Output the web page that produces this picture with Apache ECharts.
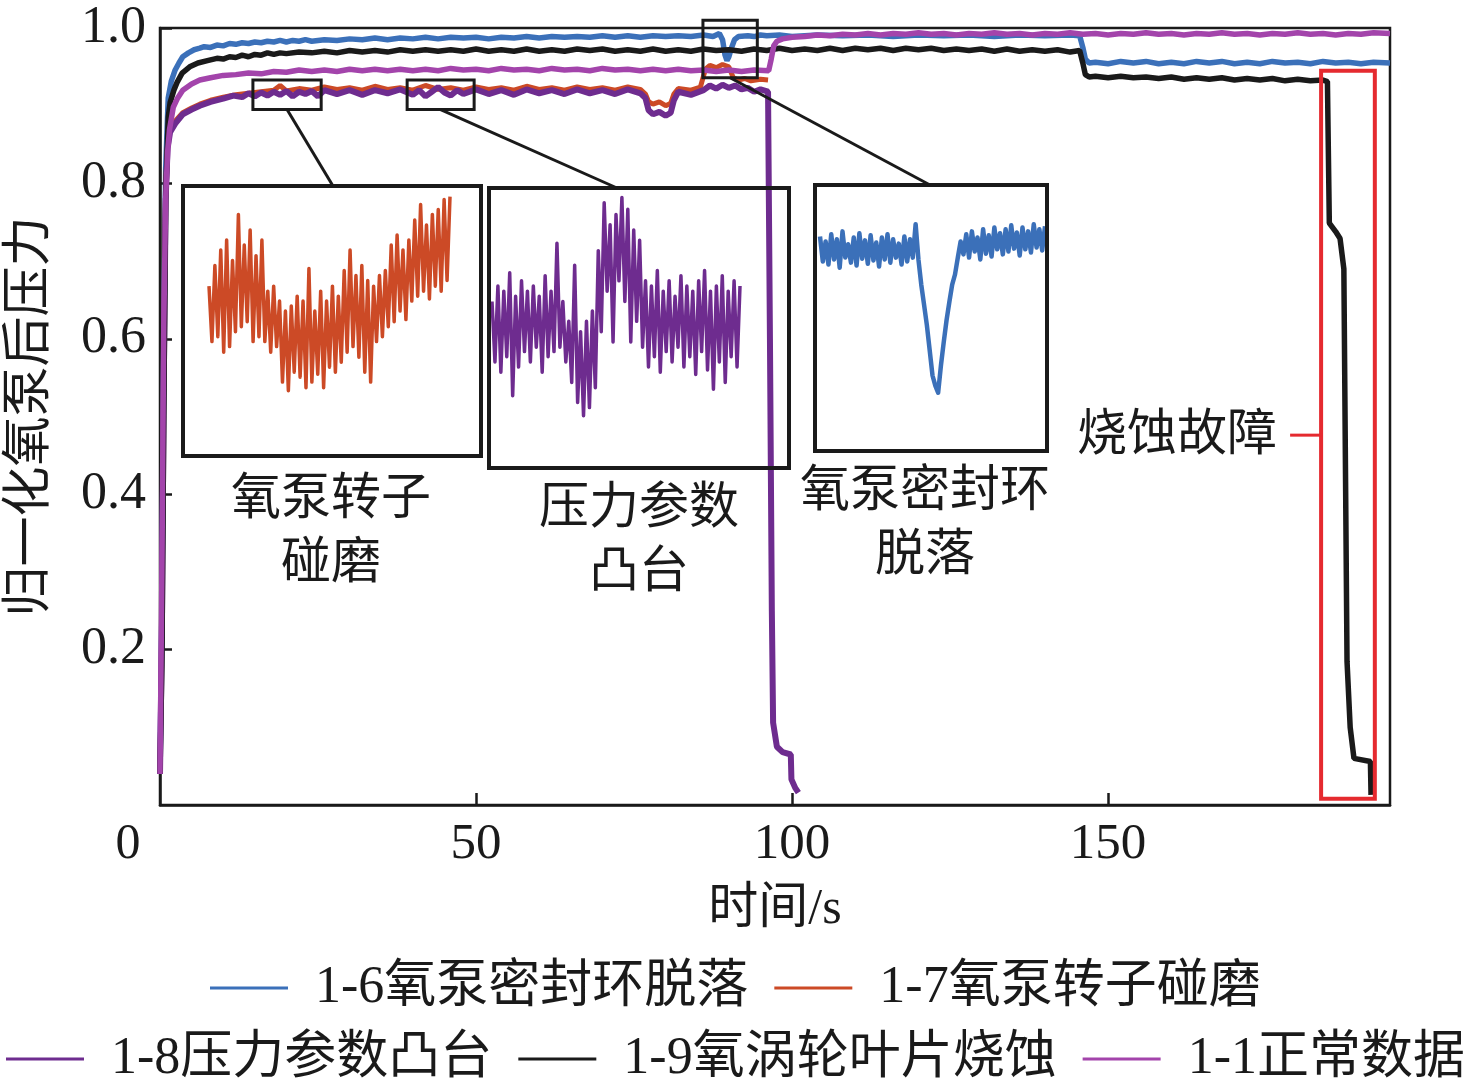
<!DOCTYPE html>
<html>
<head>
<meta charset="utf-8"/>
<title>氧泵后压力</title>
<script src="https://cdn.jsdelivr.net/npm/echarts@6/dist/echarts.min.js"></script>
<style>
  html,body{margin:0;padding:0;background:#fff;}
  #main{width:1476px;height:1091px;}
</style>
</head>
<body>
<div id="main"></div>
<script type="text/javascript">
// ---- series names (legend order) ----
var names = ['1-6氧泵密封环脱落', '1-7氧泵转子碰磨', '1-8压力参数凸台', '1-9氧涡轮叶片烧蚀', '1-1正常数据'];
var colors = ['#3b70b9', '#cc4a26', '#6e2c8f', '#1a1a1a', '#a344ab'];

// ---- main curves: [time s, normalized pressure] ----
var seal = [[0,.04],[0.3,.25],[0.6,.6],[0.9,.82],[1.3,.91],[1.8,.932],[2.4,.946],[3,.955],[3.6,.963],[4.5,.968],[5.4,.972],[6.3,.974],[7,.976],[8,.975],[9,.978],[10,.977],[11,.98],[12,.979],[13,.981],[14,.98],[15,.982],[16,.981],[17,.983],[18,.982],[19,.984],[20,.982],[21,.984],[22,.983],[23,.985],[24,.983],[26,.985],[28,.984],[30,.986],[32,.985],[34,.987],[36,.985],[38,.987],[40,.986],[42,.988],[44,.986],[46,.988],[48,.987],[50,.988],[52,.986],[54,.988],[56,.987],[58,.989],[60,.987],[62,.989],[64,.988],[66,.989],[68,.988],[70,.99],[72,.988],[74,.99],[76,.988],[78,.99],[80,.989],[82,.99],[84,.989],[86,.991],[87.5,.989],[88.5,.993],[89,.985],[89.4,.965],[89.7,.958],[90,.963],[90.4,.974],[90.9,.985],[91.5,.989],[93,.99],[94,.989],[95,.991],[96,.99],[98,.991],[100,.989],[104,.991],[108,.99],[112,.991],[116,.989],[120,.991],[124,.99],[128,.991],[132,.989],[136,.991],[140,.99],[144,.991],[145.5,.99],[146,.975],[146.4,.96],[147,.955],[148,.956],[150,.954],[152,.957],[154,.955],[156,.957],[158,.954],[160,.956],[162,.954],[164,.957],[166,.955],[168,.957],[170,.954],[172,.956],[174,.954],[176,.957],[178,.955],[180,.956],[182,.954],[184,.957],[186,.955],[188,.956],[190,.954],[192,.956],[194.6,.955]];
var rotor = [[0,.04],[0.3,.25],[0.6,.6],[0.9,.8],[1.2,.85],[1.6,.869],[2.5,.881],[3.6,.891],[5,.897],[6.3,.902],[8,.907],[10,.911],[12,.914],[14,.916],[16,.918],[18,.92],[19,.926],[20,.919],[22,.922],[24,.92],[26,.924],[28,.921],[30,.923],[32,.92],[34,.925],[36,.921],[38,.923],[40,.92],[42,.926],[44,.921],[46,.923],[48,.92],[50,.924],[52,.921],[54,.923],[56,.92],[58,.925],[60,.921],[62,.923],[64,.92],[66,.924],[68,.921],[70,.923],[72,.92],[74,.924],[76,.921],[76.8,.915],[77.3,.905],[78,.902],[79,.905],[80,.9],[80.8,.903],[81.3,.915],[82,.922],[84,.92],[85.5,.924],[86.3,.947],[87,.952],[88,.949],[89,.953],[90,.95],[90.7,.936],[91.5,.933],[92.5,.935],[93.5,.932],[95,.934],[96.2,.933]];
var boss = [[0,.04],[0.3,.22],[0.6,.55],[0.9,.78],[1.2,.845],[1.6,.866],[2.5,.878],[3.6,.889],[5,.895],[6.3,.9],[8,.905],[10,.909],[11.6,.913],[13,.911],[14,.916],[15,.912],[16,.917],[17,.913],[18,.918],[19,.914],[20,.919],[21,.912],[22,.918],[23,.915],[24,.919],[25,.912],[26,.92],[28,.915],[30,.92],[32,.914],[34,.92],[36,.916],[38,.921],[40,.914],[41,.92],[42,.912],[43,.918],[44,.924],[45,.917],[46,.913],[47,.92],[48,.915],[50,.921],[52,.915],[54,.92],[56,.914],[58,.921],[60,.916],[62,.92],[64,.915],[66,.921],[68,.916],[70,.92],[72,.915],[74,.921],[76,.916],[76.8,.91],[77.3,.894],[78,.889],[79,.892],[80,.887],[80.8,.891],[81.3,.907],[82,.918],[84,.914],[86,.92],[87,.926],[88,.922],[89,.927],[90,.923],[91,.926],[92,.921],[93,.923],[94,.918],[95,.921],[96.2,.918],[96.5,.6],[96.8,.25],[97,.106],[97.6,.075],[98.5,.068],[99.8,.065],[99.9,.033],[100.5,.022],[101,.016]];
var blade = [[0,.04],[0.3,.18],[0.6,.5],[0.9,.78],[1.3,.885],[1.6,.904],[2.2,.92],[2.7,.93],[3.5,.942],[4.7,.95],[6,.955],[7.5,.958],[9,.961],[10,.96],[11,.963],[12,.962],[13,.965],[14,.963],[15,.966],[16,.965],[17,.968],[18,.966],[19,.968],[20,.967],[22,.969],[24,.968],[26,.97],[28,.968],[30,.971],[32,.969],[34,.971],[36,.969],[38,.972],[40,.97],[42,.972],[44,.97],[46,.972],[48,.97],[50,.973],[52,.97],[54,.972],[56,.97],[58,.973],[60,.97],[62,.972],[64,.97],[66,.973],[68,.971],[70,.973],[72,.97],[74,.972],[76,.97],[78,.973],[80,.97],[82,.972],[84,.97],[86,.973],[88,.971],[90,.972],[92,.97],[94,.973],[96,.971],[98,.974],[100,.971],[102,.973],[104,.971],[106,.974],[108,.971],[110,.974],[112,.972],[114,.974],[116,.971],[118,.974],[120,.972],[122,.974],[124,.971],[126,.973],[128,.971],[130,.973],[132,.97],[134,.973],[136,.97],[138,.972],[140,.97],[142,.972],[144,.969],[145.5,.971],[146,.955],[146.4,.94],[147,.937],[148,.938],[150,.936],[152,.938],[154,.936],[156,.937],[158,.935],[160,.937],[162,.934],[164,.936],[166,.934],[168,.936],[170,.933],[172,.935],[174,.933],[176,.935],[178,.932],[180,.934],[182,.932],[184,.933],[184.7,.931],[185,.749],[186,.738],[186.7,.729],[187.3,.69],[187.8,.185],[188.3,.1],[188.9,.06],[191.5,.056],[191.6,.013]];
var normal = [[0,.04],[0.3,.3],[0.6,.62],[0.9,.78],[1.2,.84],[1.5,.869],[2.1,.898],[2.8,.91],[3.6,.92],[5,.928],[6.3,.933],[8,.936],[10,.939],[12,.94],[14,.942],[16,.941],[18,.944],[20,.943],[22,.946],[24,.944],[26,.946],[28,.944],[30,.947],[32,.945],[34,.947],[36,.945],[38,.947],[40,.945],[42,.947],[44,.945],[46,.948],[48,.946],[50,.947],[52,.945],[54,.948],[56,.946],[58,.947],[60,.945],[62,.948],[64,.946],[66,.947],[68,.945],[70,.948],[72,.946],[74,.947],[76,.945],[78,.947],[80,.945],[82,.947],[84,.945],[86,.946],[88,.944],[90,.946],[92,.944],[94,.946],[96.3,.945],[96.7,.96],[97.1,.977],[97.6,.983],[98.5,.986],[100,.988],[102,.989],[104,.991],[106,.99],[108,.992],[110,.991],[112,.993],[114,.991],[116,.993],[118,.992],[120,.994],[122,.992],[124,.993],[126,.991],[128,.993],[130,.992],[132,.994],[134,.992],[136,.993],[138,.991],[140,.993],[142,.992],[144,.994],[146,.992],[148,.993],[150,.991],[152,.993],[154,.992],[156,.994],[158,.992],[160,.993],[162,.991],[164,.993],[166,.992],[168,.994],[170,.992],[172,.993],[174,.991],[176,.993],[178,.992],[180,.994],[182,.992],[184,.993],[186,.991],[188,.993],[190,.992],[192,.994],[194.6,.993]];

// ---- enlarged views (evenly sampled pressure) ----
var zoomRotor = [.9189,.9111,.9218,.9118,.9240,.9096,.9254,.9104,.9225,
  .9125,.9290,.9132,.9247,.9139,.9268,.9111,.9232,.9118,.9254,
  .9111,.9182,.9096,.9189,.9104,
  .9168,.9054,.9154,.9042,.9161,.9068,.9175,
  .9061,.9168,.9046,.9214,.9054,.9154,.9065,.9182,.9046,.9168,
  .9075,.9189,.9068,.9175,.9082,
  .9211,.9096,.9240,.9104,.9204,.9089,.9218,
  .9068,.9197,.9054,.9189,.9111,
  .9204,.9118,.9211,.9132,
  .9247,.9139,.9261,.9154,.9240,.9142,.9254,
  .9168,.9282,.9175,.9304,.9182,.9275,.9171,
  .9290,.9189,.9297,.9182,.9311,.9197,.9315];
var zoomBoss = [.9176,.9094,.9197,.9080,.9190,.9101,.9215,.9048,.9183,.9087,.9204,.9108,.9190,
  .9094,.9197,.9114,.9183,.9080,.9211,.9101,.9190,.9108,.9255,.9114,.9176,.9094,
  .9149,.9066,.9225,.9039,.9135,.9021,.9149,.9032,.9163,.9059,
  .9245,.9135,.9310,.9190,.9280,.9121,.9294,.9204,.9317,.9176,.9301,.9121,.9273,.9149,.9259,.9114,.9204,
  .9087,.9197,.9101,.9218,.9080,.9190,.9108,.9204,.9094,.9183,.9114,.9211,.9087,.9197,.9101,.9190,
  .9077,.9204,.9108,.9218,.9083,.9190,.9057,.9197,.9094,.9211,.9066,.9190,.9101,.9204,.9087,.9197];
var zoomSeal = [.9957,.9887,.9943,.9879,.9963,.9893,.9949,.9870,.9971,.9898,.9935,.9884,.9954,.9876,.9966,.9895,
  .9946,.9881,.9960,.9890,.9940,.9873,.9954,.9893,.9963,.9884,.9949,.9898,.9937,.9879,.9957,.9887,.9949,.9898,
  .9991,
  .9893,.9823,.9767,.9710,.9640,.9570,.9542,.9522,.9598,.9663,.9724,.9775,.9823,.9851,.9898,
  .9943,.9907,.9963,.9898,.9971,.9915,.9954,.9893,.9977,.9909,.9960,.9901,.9982,.9921,.9966,.9907,
  .9977,.9915,.9988,.9923,.9968,.9904,.9982,.9921,.9971,.9912,.9991,.9926,.9977,.9918,.9985];

// ---- boxes in data units: [t0, t1, pTop, pBottom] ----
var zoomBoxes = [[14.7, 25.5, .933, .895], [39.1, 49.7, .933, .895], [85.9, 94.5, 1.010, .936]];
var faultBox = [183.7, 192.2, .945, .008];
var faultLabelP = .476;

// ---- tick / label text ----
var xTicks = [50, 100, 150];
var yTicks = [0.2, 0.4, 0.6, 0.8, 1.0];

var FONT = "'Liberation Serif','Noto Sans CJK SC',serif";
var INK = '#1a1a1a';

// inset layouts (pixels): frame rect, data area, connector end point
var insets = [
  {frame: [183, 186, 298, 270], area: [209, 186, 241, 270], anchor: [333, 186]},
  {frame: [489, 188, 300, 280], area: [492, 188, 248, 280], anchor: [617, 188]},
  {frame: [815, 185, 232, 266], area: [820, 185, 225, 266], anchor: [930, 185]}
];

var myChart = echarts.init(document.getElementById('main'));

var grids = [{left: 160, top: 28, right: 86, bottom: 286, show: true, borderColor: INK, borderWidth: 2.5,
  backgroundColor: 'transparent', containLabel: false, outerBoundsMode: 'none'}];
var xAxes = [{
  type: 'value', min: 0, max: 194.6, interval: 50,
  name: '时间/s', nameLocation: 'middle', nameGap: 80,
  nameTextStyle: {fontFamily: FONT, fontSize: 50, color: INK},
  axisLine: {lineStyle: {color: INK, width: 2.5}},
  axisTick: {inside: true, length: 12, lineStyle: {color: INK, width: 2.5},
    customValues: xTicks},
  axisLabel: {fontFamily: FONT, fontSize: 51, color: INK, margin: 14,
    customValues: xTicks},
  splitLine: {show: false}
}];
var yAxes = [{
  type: 'value', min: 0, max: 1, interval: 0.2,
  name: '归一化氧泵后压力', nameLocation: 'middle', nameGap: 104,
  nameTextStyle: {fontFamily: FONT, fontSize: 50, color: INK},
  axisLine: {lineStyle: {color: INK, width: 2.5}},
  axisTick: {inside: true, length: 12, lineStyle: {color: INK, width: 2.5},
    customValues: yTicks},
  axisLabel: {fontFamily: FONT, fontSize: 52, color: INK, margin: 14,
    customValues: yTicks, formatter: function (v) { return v.toFixed(1); }},
  splitLine: {show: false}
}];

var widths = [5.5, 5, 6, 5.5, 5.5];
var series = [];
[seal, rotor, boss, blade, normal].forEach(function (d, i) {
  series.push({
    name: names[i], type: 'line', data: d, showSymbol: false, symbol: 'none',
    lineStyle: {color: colors[i], width: widths[i]}, itemStyle: {color: colors[i]},
    silent: true, z: 2 + i
  });
});

var zoomData = [zoomRotor, zoomBoss, zoomSeal];
var zoomColor = [colors[1], colors[2], colors[0]];
insets.forEach(function (ins, k) {
  var b = zoomBoxes[k];
  grids.push({left: ins.area[0], top: ins.area[1], width: ins.area[2], height: ins.area[3], outerBoundsMode: 'none'});
  xAxes.push({type: 'category', gridIndex: k + 1, show: false, boundaryGap: false});
  yAxes.push({type: 'value', gridIndex: k + 1, show: false, min: b[3], max: b[2]});
  series.push({
    name: 'zoom' + k, type: 'line', xAxisIndex: k + 1, yAxisIndex: k + 1,
    data: zoomData[k], showSymbol: false, symbol: 'none', silent: true,
    lineStyle: {color: zoomColor[k], width: k === 2 ? 4.5 : 3.5, join: 'round'}
  });
});

var legendCommon = {
  icon: 'rect', itemWidth: 78, itemHeight: 3, itemGap: 26, padding: 0,
  selectedMode: false,
  textStyle: {fontFamily: FONT, fontSize: 52, color: INK, padding: [0, 0, 0, 22]}
};

var option = {
  animation: false,
  backgroundColor: '#fff',
  grid: grids,
  xAxis: xAxes,
  yAxis: yAxes,
  legend: [
    Object.assign({left: 210, top: 962, data: names.slice(0, 2)}, legendCommon),
    Object.assign({left: 6, top: 1033, width: 1470, data: names.slice(2)}, legendCommon)
  ],
  series: series
};
myChart.setOption(option);

// ---- annotations positioned from data units ----
function px(t, p) { return myChart.convertToPixel({gridIndex: 0}, [t, p]); }
var g = [];
zoomBoxes.forEach(function (b, k) {
  var a = px(b[0], b[2]), c = px(b[1], b[3]);
  g.push({type: 'rect', shape: {x: a[0], y: a[1], width: c[0] - a[0], height: c[1] - a[1]},
    style: {fill: null, stroke: INK, lineWidth: 3}, z: 50});
  var f = insets[k].frame;
  g.push({type: 'rect', shape: {x: f[0], y: f[1], width: f[2], height: f[3]},
    style: {fill: null, stroke: INK, lineWidth: 4}, z: 50});
  g.push({type: 'line', shape: {x1: (a[0] + c[0]) / 2, y1: c[1], x2: insets[k].anchor[0], y2: insets[k].anchor[1]},
    style: {stroke: INK, lineWidth: 3}, z: 50});
});
var fa = px(faultBox[0], faultBox[2]), fc = px(faultBox[1], faultBox[3]);
g.push({type: 'rect', shape: {x: fa[0], y: fa[1], width: fc[0] - fa[0], height: fc[1] - fa[1]},
  style: {fill: null, stroke: '#e52a2f', lineWidth: 4}, z: 50});
var fy = px(faultBox[0], faultLabelP)[1];
g.push({type: 'line', shape: {x1: fa[0] - 31, y1: fy, x2: fa[0], y2: fy},
  style: {stroke: '#e52a2f', lineWidth: 3}, z: 50});

function label(text, x, y) {
  g.push({type: 'text', x: x, y: y, z: 60,
    style: {text: text, fontFamily: FONT, fontSize: 50, fill: INK, align: 'center', verticalAlign: 'middle', lineHeight: 64}});
}
label('氧泵转子\n碰磨', 331, 533);
label('压力参数\n凸台', 639, 542);
label('氧泵密封环\n脱落', 925, 525);
label('烧蚀故障', 1177, 437);
label('0', 128, 845);

myChart.setOption({graphic: g});
</script>
</body>
</html>
